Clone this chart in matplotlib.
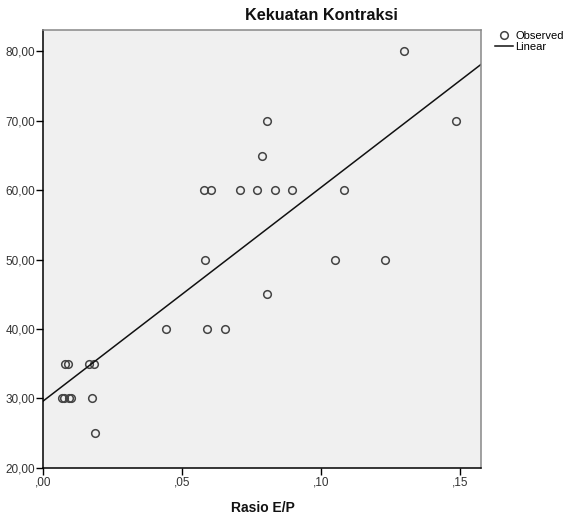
import numpy as np
import matplotlib
matplotlib.use("Agg")
import matplotlib.pyplot as plt
from matplotlib.ticker import FuncFormatter

plt.rcParams['font.family'] = ['Liberation Sans', 'DejaVu Sans']

# Data
rasio_ep = [0.1297, 0.1484, 0.0806, 0.0786,
            0.0578, 0.0604, 0.0709, 0.0770, 0.0835, 0.0895, 0.1081,
            0.0582, 0.1049, 0.1228,
            0.0806,
            0.0441, 0.0590, 0.0652,
            0.0078, 0.0090, 0.0166, 0.0183,
            0.0068, 0.0076, 0.0092, 0.0099, 0.0176,
            0.0187]
kekuatan = [80, 70, 70, 65,
            60, 60, 60, 60, 60, 60, 60,
            50, 50, 50,
            45,
            40, 40, 40,
            35, 35, 35, 35,
            30, 30, 30, 30, 30,
            25]

x_ticks = [0.00, 0.05, 0.10, 0.15]
y_ticks = [20, 30, 40, 50, 60, 70, 80]


def koma(fmt):
    # SPSS-style decimal comma, no leading zero for fractions
    def f(v, pos):
        s = fmt.format(v).replace('.', ',')
        if s.startswith('0,'):
            s = s[1:]
        return s
    return FuncFormatter(f)


fig = plt.figure(figsize=(5.66, 5.17), dpi=100)
ax = fig.add_axes([0.0765, 0.0954, 0.850 - 0.0765, 0.942 - 0.0954])
ax.set_facecolor('#f0f0f0')

obs, = ax.plot(rasio_ep, kekuatan, 'o', ls='none', ms=5.5, mfc='none',
               mec='#444444', mew=1.1, label='Observed')

# linear fit
b, a = np.polyfit(rasio_ep, kekuatan, 1)
xx = np.array([0, 0.1575])
lin, = ax.plot(xx, a + b * xx, color='#111111', lw=1.1, label='Linear')

ax.set_xlim(0, 0.1575)
ax.set_ylim(20, 83.1)
ax.set_xticks(x_ticks)
ax.set_yticks(y_ticks)
ax.xaxis.set_major_formatter(koma('{:.2f}'))
ax.yaxis.set_major_formatter(koma('{:.2f}'))
ax.tick_params(direction='out', length=5, width=1, labelsize=8.5,
               labelcolor='#333333', pad=1)

for s in ['left', 'bottom']:
    ax.spines[s].set_color('black')
    ax.spines[s].set_linewidth(1.1)
for s in ['top', 'right']:
    ax.spines[s].set_color('#888888')
    ax.spines[s].set_linewidth(1.1)

fig.text(321 / 566, 1 - 16 / 517, 'Kekuatan Kontraksi', ha='center',
         va='center', fontsize=11.7, fontweight='bold', color='#111111')
fig.text(263 / 566, 1 - 508 / 517, 'Rasio E/P', ha='center', va='center',
         fontsize=10, fontweight='bold', color='#111111')

fig.legend(handles=[obs, lin], loc='upper left',
           bbox_to_anchor=(495 / 566, 1 - 31 / 517), frameon=False,
           fontsize=8, handlelength=1.6, handletextpad=0.2,
           labelspacing=0.1, borderaxespad=0, borderpad=0)

fig.savefig('out.png', dpi=100)
